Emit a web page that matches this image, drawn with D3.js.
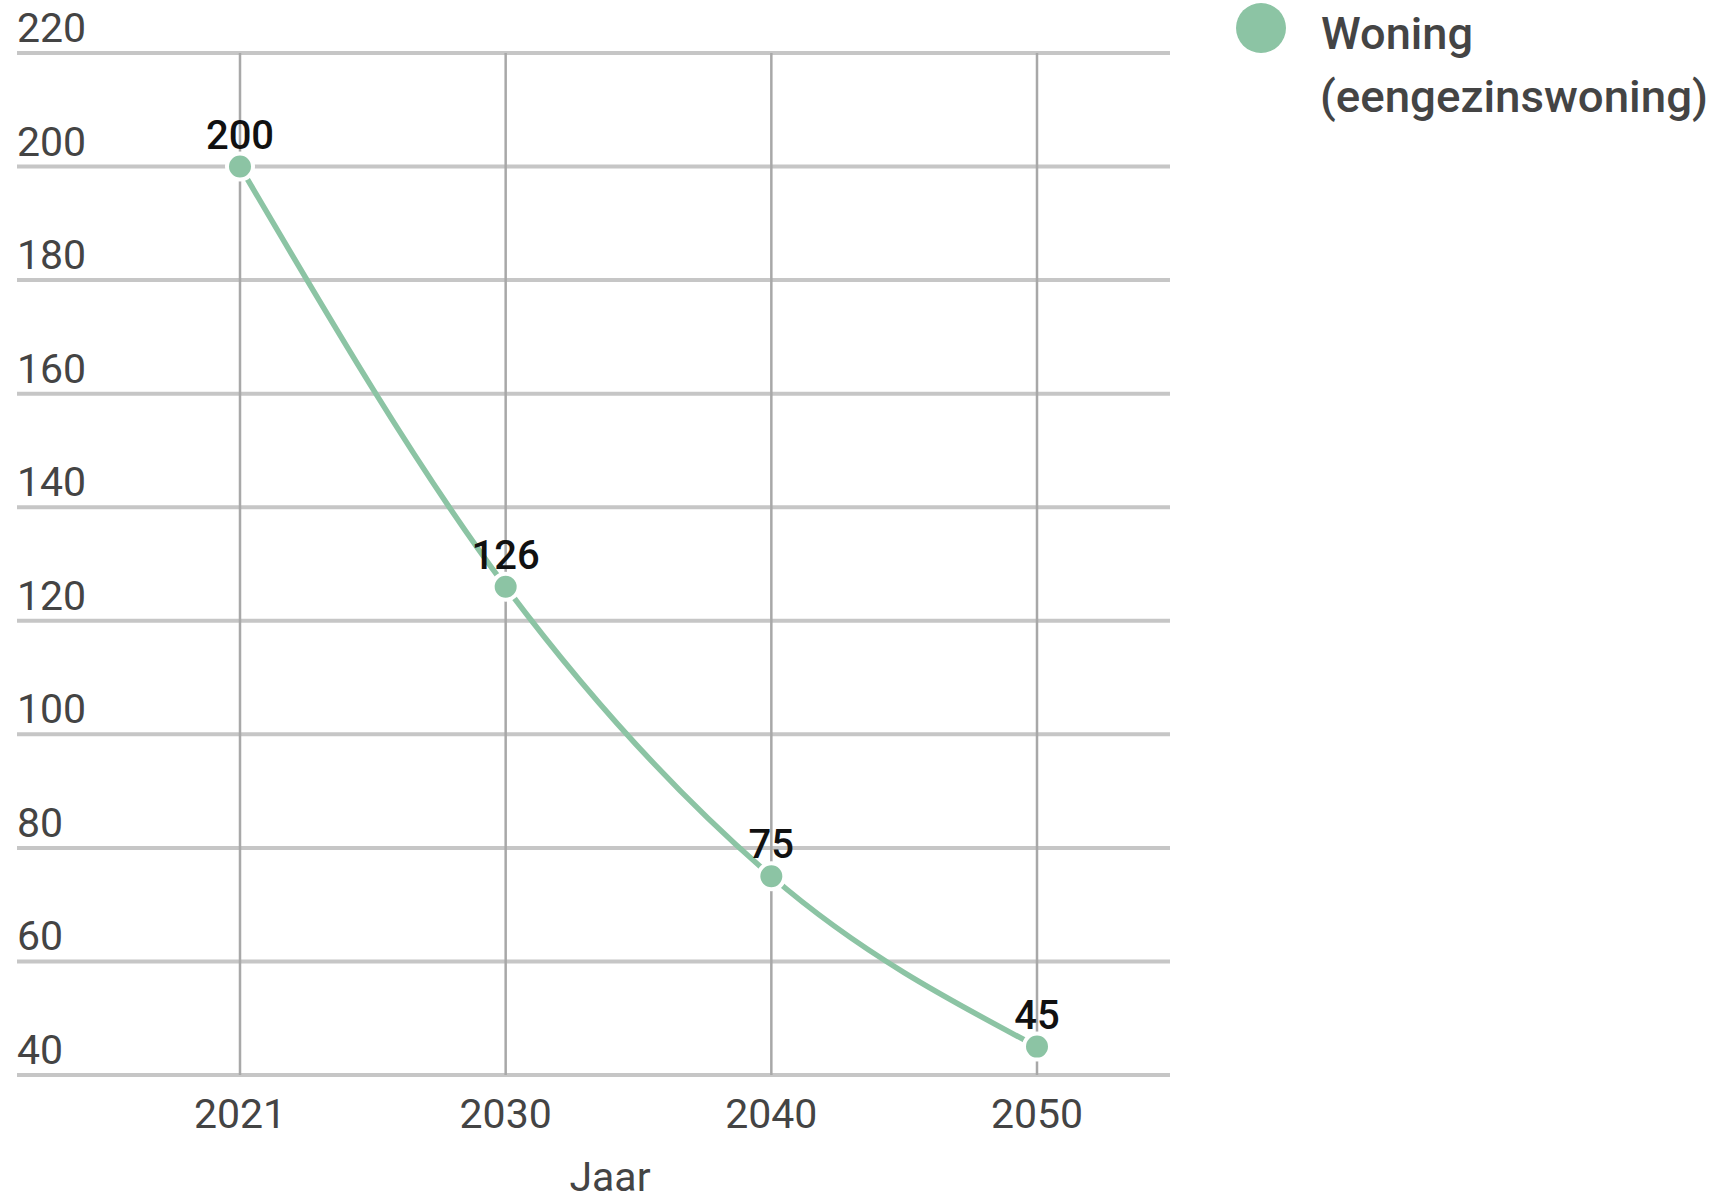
<!DOCTYPE html>
<html>
<head>
<meta charset="utf-8">
<script src="https://cdn.jsdelivr.net/npm/d3@7"></script>
<style>
  html, body { margin: 0; padding: 0; background: #fff; }
  svg { display: block; font-family: Roboto, "Noto Sans", sans-serif; }
</style>
</head>
<body>
<svg id="chart" width="1721" height="1201"></svg>
<script>
const years = ["2021", "2030", "2040", "2050"];
const values = [200, 126, 75, 45];
const yTicks = [40, 60, 80, 100, 120, 140, 160, 180, 200, 220];
const seriesName = ["Woning", "(eengezinswoning)"];
const xTitle = "Jaar";

const color = "#8cc4a4";
const svg = d3.select("#chart");

const gridLeft = 17, gridRight = 1170;
const x = d3.scalePoint().domain(years).range([240, 1037]).padding(0);
const y = d3.scaleLinear().domain([40, 220]).range([1075, 53]);

// horizontal grid + y labels
const yg = svg.append("g");
yg.selectAll("line").data(yTicks).join("line")
  .attr("x1", gridLeft).attr("x2", gridRight)
  .attr("y1", d => y(d)).attr("y2", d => y(d))
  .attr("stroke", "#c6c6c6").attr("stroke-width", 4);
yg.selectAll("text").data(yTicks).join("text")
  .attr("x", gridLeft).attr("y", d => y(d) - 11)
  .attr("fill", "#444").attr("font-size", 41)
  .text(d => d);

// vertical grid
svg.append("g").selectAll("line").data(years).join("line")
  .attr("x1", d => x(d)).attr("x2", d => x(d))
  .attr("y1", y(220)).attr("y2", y(40))
  .attr("stroke", "#a8a8a8").attr("stroke-width", 2.5);

// x axis labels
svg.append("g").selectAll("text").data(years).join("text")
  .attr("x", d => x(d)).attr("y", 1128)
  .attr("text-anchor", "middle")
  .attr("fill", "#444").attr("font-size", 41)
  .text(d => d);

svg.append("text").attr("x", 610).attr("y", 1191)
  .attr("text-anchor", "middle").attr("fill", "#444").attr("font-size", 41)
  .text(xTitle);

// line
const pts = years.map((yr, i) => ({yr, v: values[i]}));
const line = d3.line().x(d => x(d.yr)).y(d => y(d.v)).curve(d3.curveMonotoneX);
svg.append("path").datum(pts).attr("d", line)
  .attr("fill", "none").attr("stroke", color).attr("stroke-width", 5.5);

// points
svg.append("g").selectAll("circle").data(pts).join("circle")
  .attr("cx", d => x(d.yr)).attr("cy", d => y(d.v)).attr("r", 13)
  .attr("fill", color).attr("stroke", "#fff").attr("stroke-width", 4);

// data labels
svg.append("g").selectAll("text").data(pts).join("text")
  .attr("x", d => x(d.yr)).attr("y", d => y(d.v) - 18)
  .attr("text-anchor", "middle").attr("fill", "#111")
  .attr("font-size", 40).attr("font-weight", 500)
  .text(d => d.v);

// legend
const lg = svg.append("g");
lg.append("circle").attr("cx", 1261).attr("cy", 28).attr("r", 25).attr("fill", color);
lg.append("text").attr("x", 1321).attr("y", 49).attr("fill", "#444").attr("font-size", 45)
  .attr("font-weight", 500).attr("textLength", 152).attr("lengthAdjust", "spacingAndGlyphs")
  .text(seriesName[0]);
lg.append("text").attr("x", 1320).attr("y", 112).attr("fill", "#444").attr("font-size", 45)
  .attr("font-weight", 500).attr("textLength", 388).attr("lengthAdjust", "spacingAndGlyphs")
  .text(seriesName[1]);
</script>
</body>
</html>
